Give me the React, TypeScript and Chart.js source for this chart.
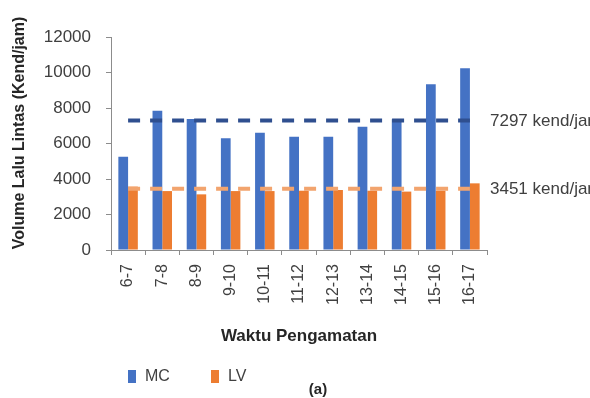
import React, { useEffect, useRef } from "react";
import { Chart, registerables } from "chart.js";

Chart.register(...registerables);

const categories = ["6-7", "7-8", "8-9", "9-10", "10-11", "11-12", "12-13", "13-14", "14-15", "15-16", "16-17"];
const mcValues = [5250, 7850, 7380, 6290, 6610, 6385, 6385, 6950, 7360, 9335, 10235];
const lvValues = [3570, 3320, 3135, 3320, 3320, 3340, 3380, 3340, 3290, 3340, 3755];
const mcAverage = 7297;
const lvAverage = 3451;
const mcAverageLine = [7297, 7297, 7297, 7297, 7297, 7297, 7297, 7297, 7297, 7297, 7297];
const lvAverageLine = [3451, 3451, 3451, 3451, 3451, 3451, 3451, 3451, 3451, 3451, 3451];
const yTicks = [0, 2000, 4000, 6000, 8000, 10000, 12000];
const unitLabel = "kend/jam";

const FONT = '"Liberation Sans", Arial, sans-serif';
const MC_COLOR = "#4472C4";
const LV_COLOR = "#ED7D31";
const MC_LINE = "#2F4F8F";
const LV_LINE = "#F2A46E";

const annotations = {
  id: "annotations",
  afterDatasetsDraw(chart: any) {
    const { ctx, chartArea, scales } = chart;
    ctx.save();
    // average labels on the right
    ctx.font = `17px ${FONT}`;
    ctx.fillStyle = "#404040";
    ctx.textAlign = "left";
    ctx.textBaseline = "middle";
    [mcAverage, lvAverage].forEach((v) => {
      const y = scales.y.getPixelForValue(v);
      ctx.fillText(`${v} ${unitLabel}`, chartArea.right + 3, y + 1);
    });
    // y title
    ctx.save();
    ctx.translate(20, 133);
    ctx.rotate(-Math.PI / 2);
    ctx.font = `bold 16px ${FONT}`;
    ctx.fillStyle = "#262626";
    ctx.textAlign = "center";
    ctx.textBaseline = "middle";
    ctx.fillText("Volume Lalu Lintas (Kend/jam)", 0, 0);
    ctx.restore();
    // x title
    ctx.font = `bold 17px ${FONT}`;
    ctx.fillStyle = "#262626";
    ctx.textAlign = "center";
    ctx.textBaseline = "middle";
    ctx.fillText("Waktu Pengamatan", (chartArea.left + chartArea.right) / 2, 336);
    // legend
    const items = [
      { label: chart.data.datasets[0].label, color: MC_COLOR, x: 128 },
      { label: chart.data.datasets[1].label, color: LV_COLOR, x: 211 },
    ];
    ctx.font = `16px ${FONT}`;
    ctx.textAlign = "left";
    items.forEach((it) => {
      ctx.fillStyle = it.color;
      ctx.fillRect(it.x, 370, 8, 13);
      ctx.fillStyle = "#404040";
      ctx.fillText(it.label, it.x + 17, 377);
    });
    // (a)
    ctx.font = `bold 15px ${FONT}`;
    ctx.fillStyle = "#262626";
    ctx.textAlign = "center";
    ctx.fillText("(a)", 318, 390);
    ctx.restore();
  },
};

export default function App() {
  const ref = useRef<HTMLCanvasElement>(null);
  useEffect(() => {
    if (!ref.current) return;
    const chart = new Chart(ref.current, {
      type: "bar",
      data: {
        labels: categories,
        datasets: [
          { type: "bar", label: "MC", data: mcValues, backgroundColor: MC_COLOR, order: 2, categoryPercentage: 0.57, barPercentage: 1.0 },
          { type: "bar", label: "LV", data: lvValues, backgroundColor: LV_COLOR, order: 2, categoryPercentage: 0.57, barPercentage: 1.0 },
          { type: "line", label: "MC avg", data: mcAverageLine, borderColor: MC_LINE, borderWidth: 4, borderDash: [12, 10], pointRadius: 0, fill: false, order: 0 },
          { type: "line", label: "LV avg", data: lvAverageLine, borderColor: LV_LINE, borderWidth: 4, borderDash: [12, 10], pointRadius: 0, fill: false, order: 0 },
        ] as any,
      },
      options: {
        responsive: false,
        animation: false,
        layout: { padding: { left: 0, top: 37, right: 103, bottom: 0 } },
        plugins: { legend: { display: false }, tooltip: { enabled: false } },
        scales: {
          x: {
            offset: true,
            grid: { drawOnChartArea: false, drawTicks: true, tickLength: 5, color: "#8C8C8C", offset: true },
            border: { display: true, color: "#8C8C8C" },
            ticks: {
              minRotation: 90,
              maxRotation: 90,
              padding: 9,
              autoSkip: false,
              color: "#404040",
              font: { family: FONT, size: 16 },
            },
            afterFit: (s: any) => {
              s.height = 148;
            },
          },
          y: {
            min: 0,
            max: 12000,
            afterBuildTicks: (s: any) => {
              s.ticks = yTicks.map((v) => ({ value: v }));
            },
            grid: { drawOnChartArea: false, drawTicks: true, tickLength: 5, color: "#8C8C8C" },
            border: { display: true, color: "#8C8C8C" },
            ticks: {
              padding: 15,
              color: "#404040",
              font: { family: FONT, size: 17 },
              callback: (v: any) => String(v),
            },
            afterFit: (s: any) => {
              s.width = 111;
            },
          },
        },
      },
      plugins: [annotations],
    });
    return () => chart.destroy();
  }, []);
  return (
    <div style={{ position: "absolute", left: 0, top: 0, width: 590, height: 398, background: "#fff" }}>
      <canvas ref={ref} width={590} height={398} style={{ display: "block" }} />
    </div>
  );
}
